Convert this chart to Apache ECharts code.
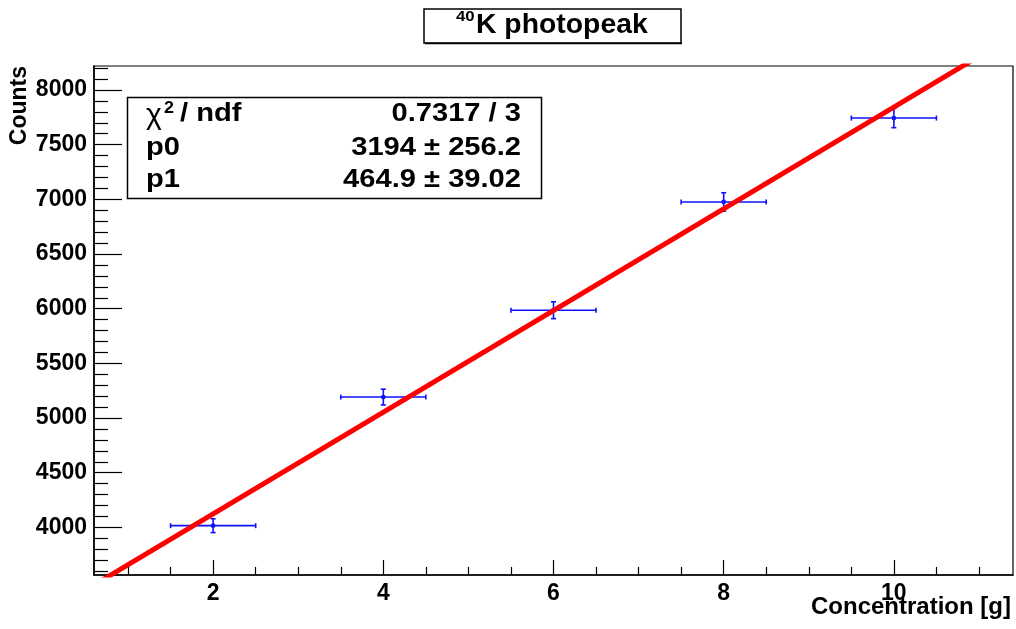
<!DOCTYPE html>
<html>
<head>
<meta charset="utf-8">
<script src="https://cdn.jsdelivr.net/npm/echarts@6/dist/echarts.min.js"></script>
<style>
  html, body { margin: 0; padding: 0; background: #fff; }
  #chart { width: 1016px; height: 629px; }
</style>
</head>
<body>
<div id="chart"></div>
<script>
// measured points (x: concentration in g, y: counts)
const concentration = [2, 4, 6, 8, 10]
const concentrationErr = [0.5, 0.5, 0.5, 0.5, 0.5]
const counts = [4016, 5192, 5986, 6976, 7743]
const countsErr = [63, 72, 77, 84, 88]

// linear fit result shown in the stats box
const fitP0 = 3194
const fitP1 = 464.9
const fitRange = [0.6, 11.4]

const xMajorTicks = [2, 4, 6, 8, 10]
const xMinorTicks = [1, 1.5, 2.5, 3, 3.5, 4.5, 5, 5.5, 6.5, 7, 7.5, 8.5, 9, 9.5, 10.5, 11]
const yMajorTicks = [4000, 4500, 5000, 5500, 6000, 6500, 7000, 7500, 8000]
const yMinorTicks = [3600, 3700, 3800, 3900, 4100, 4200, 4300, 4400, 4600, 4700, 4800, 4900,
  5100, 5200, 5300, 5400, 5600, 5700, 5800, 5900, 6100, 6200, 6300, 6400, 6600, 6700, 6800, 6900,
  7100, 7200, 7300, 7400, 7600, 7700, 7800, 7900, 8100, 8200]

const statsRows = [
  ['p0', '3194 \u00b1 256.2'],
  ['p1', '464.9 \u00b1 39.02']
]

const font = 'Liberation Sans, Arial, Helvetica, sans-serif'
const xRange = [0.6, 11.4]
const yRange = [3565, 8219]

const chart = echarts.init(document.getElementById('chart'))

const pointData = concentration.map((x, i) => [x, counts[i], concentrationErr[i], countsErr[i]])
const fitData = fitRange.map((x) => [x, fitP0 + fitP1 * x])

function renderErrorBar(params, api) {
  const x = api.value(0)
  const y = api.value(1)
  const ex = api.value(2)
  const ey = api.value(3)
  const c = api.coord([x, y])
  const left = api.coord([x - ex, y])
  const right = api.coord([x + ex, y])
  const top = api.coord([x, y + ey])
  const bottom = api.coord([x, y - ey])
  const style = { stroke: '#1010ff', lineWidth: 1.6 }
  const cap = 2.5
  return {
    type: 'group',
    children: [
      { type: 'line', shape: { x1: left[0], y1: c[1], x2: right[0], y2: c[1] }, style },
      { type: 'line', shape: { x1: c[0], y1: top[1], x2: c[0], y2: bottom[1] }, style },
      { type: 'line', shape: { x1: left[0], y1: c[1] - cap, x2: left[0], y2: c[1] + cap }, style },
      { type: 'line', shape: { x1: right[0], y1: c[1] - cap, x2: right[0], y2: c[1] + cap }, style },
      { type: 'line', shape: { x1: c[0] - cap, y1: top[1], x2: c[0] + cap, y2: top[1] }, style },
      { type: 'line', shape: { x1: c[0] - cap, y1: bottom[1], x2: c[0] + cap, y2: bottom[1] }, style },
      { type: 'circle', shape: { cx: c[0], cy: c[1], r: 2.4 }, style: { fill: '#1010ff' } }
    ]
  }
}

const labelStyle = { color: '#000', fontFamily: font, fontWeight: 'bold', fontSize: 23 }
const textStyle = (text, size, align, weight) => ({
  text, fontFamily: font, fontWeight: weight || 'bold', fontSize: size, fill: '#000', align, verticalAlign: 'middle'
})
// ROOT's bold Helvetica comes out a bit wider than Liberation Sans
const wide = 1.12

chart.setOption({
  backgroundColor: '#fff',
  animation: false,
  grid: {
    left: 94,
    top: 66,
    width: 919,
    height: 509,
    show: true,
    borderColor: '#000',
    borderWidth: 1.2
  },
  xAxis: [
    {
      type: 'value',
      min: xRange[0],
      max: xRange[1],
      position: 'bottom',
      axisLine: { onZero: false, lineStyle: { color: '#000', width: 1.6 } },
      axisTick: { inside: true, length: 15, customValues: xMajorTicks, lineStyle: { color: '#000', width: 1.2 } },
      axisLabel: { ...labelStyle, margin: 7, customValues: xMajorTicks, formatter: (v) => String(v) },
      splitLine: { show: false }
    },
    {
      type: 'value',
      min: xRange[0],
      max: xRange[1],
      position: 'bottom',
      axisLine: { show: false },
      axisTick: { inside: true, length: 8, customValues: xMinorTicks, lineStyle: { color: '#000', width: 1.2 } },
      axisLabel: { show: false },
      splitLine: { show: false }
    }
  ],
  yAxis: [
    {
      type: 'value',
      min: yRange[0],
      max: yRange[1],
      position: 'left',
      axisLine: { show: true, onZero: false, lineStyle: { color: '#000', width: 1.6 } },
      axisTick: { show: true, inside: true, length: 28, customValues: yMajorTicks, lineStyle: { color: '#000', width: 1.2 } },
      axisLabel: { ...labelStyle, margin: 7, customValues: yMajorTicks, formatter: (v) => String(v) },
      splitLine: { show: false }
    },
    {
      type: 'value',
      min: yRange[0],
      max: yRange[1],
      position: 'left',
      axisLine: { show: false },
      axisTick: { show: true, inside: true, length: 14, customValues: yMinorTicks, lineStyle: { color: '#000', width: 1.2 } },
      axisLabel: { show: false },
      splitLine: { show: false }
    }
  ],
  series: [
    {
      type: 'custom',
      xAxisIndex: 0,
      yAxisIndex: 0,
      data: pointData,
      renderItem: renderErrorBar,
      z: 2
    },
    {
      type: 'line',
      xAxisIndex: 0,
      yAxisIndex: 0,
      data: fitData,
      symbol: 'none',
      clip: true,
      lineStyle: { color: '#ff0000', width: 5 },
      z: 3
    }
  ],
  graphic: [
    // title box
    { type: 'rect', shape: { x: 424, y: 9, width: 257, height: 34 }, style: { fill: '#fff', stroke: '#000', lineWidth: 1.5 }, z: 10 },
    { type: 'line', shape: { x1: 425, y1: 43.5, x2: 682, y2: 43.5 }, style: { stroke: '#000', lineWidth: 1.5 }, z: 10 },
    { type: 'text', x: 456, y: 17, scaleX: wide, style: textStyle('40', 15, 'left'), z: 11 },
    { type: 'text', x: 476, y: 26, scaleX: 1.05, style: textStyle('K photopeak', 27, 'left'), z: 11 },

    // stats box
    { type: 'rect', shape: { x: 127.5, y: 97.5, width: 414, height: 101 }, style: { fill: '#fff', stroke: '#000', lineWidth: 1.5 }, z: 10 },
    { type: 'text', x: 146, y: 116, style: textStyle('\u03c7', 30, 'left', 'normal'), z: 11 },
    { type: 'text', x: 164, y: 109, scaleX: wide, style: textStyle('2', 16, 'left'), z: 11 },
    { type: 'text', x: 180, y: 114, scaleX: wide, style: textStyle('/ ndf', 26, 'left'), z: 11 },
    { type: 'text', x: 521, y: 114, scaleX: wide, style: textStyle('0.7317 / 3', 26, 'right'), z: 11 },
    ...statsRows.flatMap((row, i) => [
      { type: 'text', x: 146, y: 148 + i * 32, scaleX: wide, style: textStyle(row[0], 26, 'left'), z: 11 },
      { type: 'text', x: 521, y: 148 + i * 32, scaleX: wide, style: textStyle(row[1], 26, 'right'), z: 11 }
    ]),

    // axis titles
    { type: 'text', x: 1011, y: 607, style: textStyle('Concentration [g]', 24, 'right'), z: 11 },
    { type: 'text', x: 20, y: 66, rotation: Math.PI / 2, style: textStyle('Counts', 23, 'right'), z: 11 }
  ]
})
</script>
</body>
</html>
